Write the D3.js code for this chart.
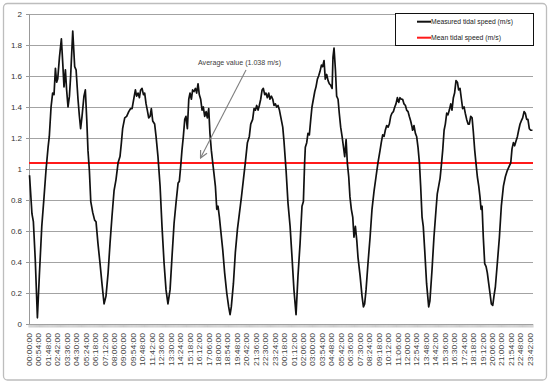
<!DOCTYPE html>
<html>
<head>
<meta charset="utf-8">
<script src="https://cdn.jsdelivr.net/npm/d3@7"></script>
<style>
  html, body { margin: 0; padding: 0; background: #fff; }
  svg { display: block; font-family: "Liberation Sans", Arial, sans-serif; }
</style>
</head>
<body>
<svg id="chart" width="550" height="385"></svg>
<script>
// ---- data ----
const categoryCount = 480; // 6-minute records over two days
const tickLabels = ["00:00:00","00:54:00","01:48:00","02:42:00","03:36:00","04:30:00","05:24:00","06:18:00","07:12:00","08:06:00","09:00:00","09:54:00","10:48:00","11:42:00","12:36:00","13:30:00","14:24:00","15:18:00","16:12:00","17:06:00","18:00:00","18:54:00","19:48:00","20:42:00","21:36:00","22:30:00","23:24:00","00:18:00","01:12:00","02:06:00","03:00:00","03:54:00","04:48:00","05:42:00","06:36:00","07:30:00","08:24:00","09:18:00","10:12:00","11:06:00","12:00:00","12:54:00","13:48:00","14:42:00","15:36:00","16:30:00","17:24:00","18:18:00","19:12:00","20:06:00","21:00:00","21:54:00","22:48:00","23:42:00"];
const labelEvery = 9;
const yTicks = [0, 0.2, 0.4, 0.6, 0.8, 1, 1.2, 1.4, 1.6, 1.8, 2];
const meanSpeed = 1.038;
const seriesNames = ["Measured tidal speed (m/s)", "Mean tidal speed (m/s)"];
const annotationText = "Average value (1.038 m/s)";

// minutes since start of record
const sampleMinutes = [0,14,22,33,45,56,70,83,94,106,113,123,132,140,148,155,161,171,182,190,197,205,212,220,228,235,247,258,266,277,285,292,300,311,319,327,334,342,350,361,372,380,391,403,414,426,437,449,460,471,483,494,506,517,525,532,544,555,567,578,586,597,605,612,620,628,635,643,651,658,666,673,681,689,696,704,715,723,
734,746,757,769,780,791,803,814,826,837,849,856,864,871,879,887,894,902,910,917,925,932,940,948,955,963,970,978,986,993,1001,1009,1016,1024,1031,1039,1047,1054,1062,1070,1077,1085,1092,1104,1115,1127,1138,1146,1153,1165,1176,1188,1199,1211,1222,1233,1245,1256,1264,1275,1283,1291,1298,1306,1313,1321,1329,1336,1344,1351,1359,1367,1374,1382,1390,1397,1405,1412,1420,1428,1435,1447,1454,
1466,1477,1489,1500,1511,1523,1534,1546,1557,1565,1572,1576,1584,1591,1599,1607,1614,1622,1630,1637,1645,1652,1660,1668,1675,1683,1690,1698,1706,1713,1721,1729,1734,1740,1748,1755,1763,1770,1778,1786,1793,1801,1809,1816,1824,1831,1839,1847,1854,1862,1870,1877,1889,1900,1908,1915,1923,1934,1946,1957,1969,1980,1991,2003,2010,2018,2026,2033,2041,2049,2056,2064,2071,2079,2087,2094,2102,2110,2117,2125,2132,2140,2148,2155,2163,2170,2178,2186,
2189,2197,2205,2212,2220,2228,2235,2243,2250,2258,2269,2281,2288,2300,2311,2323,2330,2338,2346,2353,2361,2369,2376,2384,2391,2399,2407,2414,2422,2429,2437,2445,2452,2460,2468,2475,2483,2490,2498,2506,2513,2521,2529,2536,2544,2551,2559,2567,2574,2580,2586,2593,2601,2609,2616,2624,2631,2639,2647,2654,2662,2673,2685,2696,2708,2719,2730,2742,2750,2757,2765,2772,2780,2788,2795,2803,2810,2818,2826,2833,2841,2848,2856,2864,2874];

const measuredSpeed = [0.96,0.71,0.66,0.41,0.04,0.31,0.63,0.82,0.99,1.14,1.21,1.40,1.49,1.48,1.65,1.56,1.58,1.72,1.84,1.68,1.53,1.64,1.51,1.40,1.47,1.60,1.89,1.66,1.64,1.45,1.34,1.26,1.34,1.47,1.51,1.32,1.12,0.99,0.79,0.72,0.67,0.66,0.52,0.39,0.26,0.13,0.18,0.33,0.52,0.69,0.86,0.93,1.04,1.08,1.17,1.26,1.33,1.34,1.37,1.39,1.39,1.46,1.51,1.47,1.49,1.46,1.51,1.52,1.48,1.49,1.42,1.38,1.33,1.34,1.39,1.31,1.29,1.21,
1.08,0.89,0.63,0.39,0.22,0.13,0.22,0.43,0.65,0.78,0.91,0.92,1.02,1.12,1.21,1.32,1.34,1.26,1.45,1.49,1.45,1.51,1.50,1.52,1.49,1.55,1.48,1.45,1.38,1.40,1.34,1.37,1.33,1.39,1.23,1.12,1.04,0.97,0.89,0.74,0.76,0.69,0.61,0.48,0.33,0.20,0.11,0.06,0.11,0.26,0.46,0.61,0.71,0.82,0.93,1.04,1.17,1.21,1.29,1.32,1.39,1.38,1.41,1.38,1.41,1.45,1.51,1.52,1.48,1.49,1.46,1.49,1.45,1.47,1.45,1.41,1.42,1.40,1.41,1.38,1.34,1.27,1.18,
0.99,0.78,0.63,0.43,0.22,0.06,0.31,0.52,0.76,0.79,1.04,1.14,1.17,1.23,1.22,1.32,1.40,1.45,1.50,1.53,1.58,1.60,1.63,1.67,1.66,1.70,1.58,1.61,1.57,1.55,1.54,1.52,1.72,1.78,1.64,1.47,1.45,1.36,1.27,1.21,1.15,1.08,1.19,1.04,0.95,0.82,0.74,0.69,0.56,0.63,0.54,0.43,0.31,0.18,0.11,0.13,0.22,0.39,0.56,0.74,0.86,0.95,1.04,1.12,1.17,1.22,1.21,1.25,1.28,1.27,1.29,1.34,1.36,1.37,1.40,1.42,1.46,1.43,1.46,1.45,1.45,1.42,1.41,1.38,1.37,1.34,1.31,1.27,
1.25,1.28,1.23,1.21,1.14,1.04,0.89,0.69,0.63,0.48,0.26,0.11,0.15,0.35,0.56,0.74,0.84,0.89,0.94,1.02,1.12,1.25,1.29,1.36,1.35,1.38,1.42,1.38,1.46,1.49,1.57,1.56,1.51,1.52,1.45,1.39,1.40,1.36,1.32,1.29,1.29,1.34,1.33,1.24,1.12,1.04,0.95,0.89,0.82,0.74,0.76,0.56,0.39,0.37,0.33,0.26,0.20,0.13,0.12,0.18,0.24,0.39,0.56,0.76,0.89,0.95,0.99,1.02,1.04,1.13,1.17,1.15,1.18,1.21,1.25,1.29,1.31,1.33,1.37,1.36,1.32,1.32,1.26,1.25,1.25];

// ---- chart ----
const svg = d3.select("#chart");
const W = 550, H = 385;
const plot = { left: 29, right: 533, top: 14, bottom: 324 };

// chart area border
svg.append("rect")
  .attr("x", 3.5).attr("y", 3.5).attr("width", 543).attr("height", 376.5)
  .attr("rx", 4).attr("ry", 4)
  .attr("fill", "#fff").attr("stroke", "#bdbdbd").attr("stroke-width", 1.3);

const catIdx = d3.range(categoryCount);
const xBand = d3.scaleBand().domain(catIdx).range([plot.left, plot.right]).paddingInner(0).paddingOuter(0);
const bw = xBand.bandwidth();
const x = d3.scaleLinear()
  .domain([0, (categoryCount - 1) * 6])
  .range([xBand(0) + bw / 2, xBand(categoryCount - 1) + bw / 2]);
const y = d3.scaleLinear().domain([0, 2]).range([plot.bottom, plot.top]);

// gridlines
svg.append("g").selectAll("line").data(yTicks.filter(d => d > 0)).join("line")
  .attr("x1", plot.left - 3).attr("x2", plot.right)
  .attr("y1", d => Math.round(y(d)) + 0.5).attr("y2", d => Math.round(y(d)) + 0.5)
  .attr("stroke", "#a3a3a3").attr("stroke-width", 1.2);

// y axis
const yAxis = svg.append("g").attr("transform", `translate(${plot.left},0)`)
  .call(d3.axisLeft(y).tickValues(yTicks).tickSize(3).tickPadding(4).tickFormat(d3.format("~g")));
yAxis.select(".domain").attr("stroke", "#999").attr("stroke-width", 1);
yAxis.selectAll(".tick line").attr("stroke", "#999");
yAxis.selectAll("text").attr("font-size", 8).attr("fill", "#333");

// x axis baseline and category tick marks
const xg = svg.append("g");
xg.append("line").attr("x1", plot.left).attr("x2", plot.right)
  .attr("y1", plot.bottom + 0.5).attr("y2", plot.bottom + 0.5)
  .attr("stroke", "#999").attr("stroke-width", 1.2);
xg.selectAll("line.ct").data(d3.range(categoryCount + 1)).join("line").attr("class", "ct")
  .attr("x1", i => plot.left + i * bw).attr("x2", i => plot.left + i * bw)
  .attr("y1", plot.bottom).attr("y2", plot.bottom + 3.5)
  .attr("stroke", "#a8a8a8").attr("stroke-width", 0.6);

// x labels
xg.selectAll("text").data(tickLabels).join("text")
  .attr("transform", (d, i) => `translate(${xBand(i * labelEvery) + bw / 2},${plot.bottom + 9}) rotate(-90)`)
  .attr("text-anchor", "end").attr("dy", "0.35em")
  .attr("font-size", 7).attr("fill", "#444")
  .attr("textLength", 33).attr("lengthAdjust", "spacingAndGlyphs")
  .text(d => d);

// mean line
svg.append("line")
  .attr("x1", plot.left).attr("x2", plot.right)
  .attr("y1", y(meanSpeed)).attr("y2", y(meanSpeed))
  .attr("stroke", "#ff1a1a").attr("stroke-width", 2);

// measured series
const pts = sampleMinutes.map((t, i) => [t, measuredSpeed[i]]);
svg.append("path").datum(pts)
  .attr("fill", "none").attr("stroke", "#111").attr("stroke-width", 1.7)
  .attr("stroke-linejoin", "round")
  .attr("d", d3.line().x(d => x(d[0])).y(d => y(d[1])));

// annotation
svg.append("defs").append("marker")
  .attr("id", "arr").attr("viewBox", "0 0 10 10").attr("refX", 9).attr("refY", 5)
  .attr("markerWidth", 9).attr("markerHeight", 9).attr("orient", "auto")
  .attr("markerUnits", "userSpaceOnUse")
  .append("path").attr("d", "M1,1 L9,5 L1,9").attr("fill", "none").attr("stroke", "#7f7f7f").attr("stroke-width", 1.3);
svg.append("line")
  .attr("x1", 246).attr("y1", 70).attr("x2", 200.5).attr("y2", 158)
  .attr("stroke", "#7f7f7f").attr("stroke-width", 1.1).attr("marker-end", "url(#arr)");
svg.append("text").attr("x", 198).attr("y", 64.5)
  .attr("font-size", 8).attr("fill", "#404040")
  .attr("textLength", 83).attr("lengthAdjust", "spacingAndGlyphs")
  .text(annotationText);

// legend
const lg = svg.append("g");
lg.append("rect").attr("x", 395.5).attr("y", 13.5).attr("width", 138).attr("height", 32)
  .attr("fill", "#fff").attr("stroke", "#111").attr("stroke-width", 1);
const legendColors = ["#111", "#ff1a1a"];
const legendLens = [82, 70];
seriesNames.forEach((name, i) => {
  const cy = 21.7 + i * 16;
  lg.append("line").attr("x1", 417).attr("x2", 431).attr("y1", cy).attr("y2", cy)
    .attr("stroke", legendColors[i]).attr("stroke-width", 2);
  lg.append("text").attr("x", 431).attr("y", cy).attr("dy", "0.35em")
    .attr("font-size", 7.5).attr("fill", "#222")
    .attr("textLength", legendLens[i]).attr("lengthAdjust", "spacingAndGlyphs")
    .text(name);
});
</script>
</body>
</html>
